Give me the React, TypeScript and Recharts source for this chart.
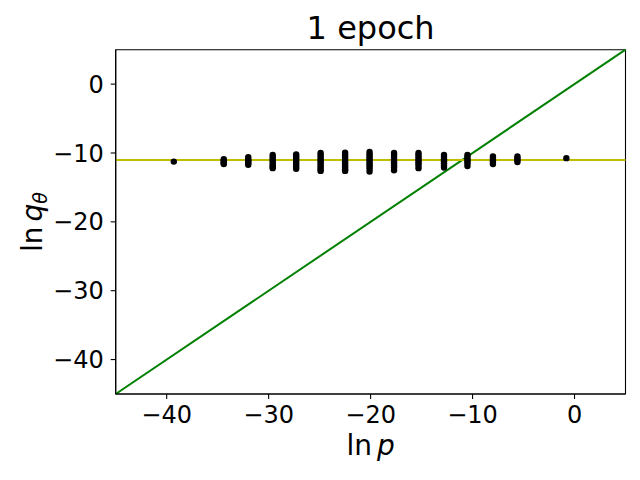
import React from "react";
import {
  ScatterChart,
  Scatter,
  XAxis,
  YAxis,
  ReferenceLine,
  ReferenceArea,
} from "recharts";

// ln p of each column of samples
const lnPColumns = [
  -39.3, -34.4, -32.0, -29.6, -27.3, -24.9, -22.5, -20.1, -17.7, -15.3, -12.8,
  -10.5, -8.0, -5.6, -0.8,
];

// ln q_theta values (top to bottom)
const lnQColumns = [
  [-11.25],
  [-10.9, -11.1, -11.3, -11.5, -11.6],
  [-10.6, -10.9, -11.1, -11.3, -11.5, -11.7],
  [-10.3, -10.6, -10.9, -11.2, -11.5, -11.8, -12.0, -12.2],
  [-10.2, -10.5, -10.8, -11.1, -11.4, -11.7, -12.0, -12.3],
  [-10.0, -10.3, -10.6, -10.9, -11.2, -11.5, -11.8, -12.1, -12.4, -12.6],
  [-9.95, -10.3, -10.6, -10.9, -11.2, -11.5, -11.8, -12.1, -12.4, -12.6],
  [-9.85, -10.2, -10.5, -10.8, -11.1, -11.4, -11.7, -12.0, -12.3, -12.7],
  [-10.0, -10.3, -10.6, -10.9, -11.2, -11.5, -11.8, -12.1, -12.5],
  [-10.0, -10.3, -10.6, -10.9, -11.2, -11.5, -11.8, -12.2],
  [-10.3, -10.6, -10.9, -11.2, -11.5, -11.8, -12.1],
  [-10.3, -10.6, -10.9, -11.2, -11.5, -11.9],
  [-10.5, -10.8, -11.1, -11.3, -11.6],
  [-10.5, -10.8, -11.0, -11.3],
  [-10.75],
];

const xTicks = [-40, -30, -20, -10, 0];
const yTicks = [-40, -30, -20, -10, 0];
const axisMin = -45;
const axisMax = 5;
const meanLnQ = -11;

const points = lnPColumns.flatMap((x, i) => lnQColumns[i].map((y) => ({ x, y })));

const FONT = "'DejaVu Sans', sans-serif";
const fmt = (v: number) => String(v).replace("-", "\u2212");

const Dot = (props: any) => <circle cx={props.cx} cy={props.cy} r={3.2} fill="#000" />;

// tick labels drawn by hand so size and baseline match
const XTick = (props: any) => (
  <text x={props.x} y={props.y + 22.3} textAnchor="middle" fontSize={24} fontFamily={FONT} fill="#000">
    {fmt(props.payload.value)}
  </text>
);
const YTick = (props: any) => (
  <text x={props.x} y={props.y + 8.6} textAnchor="end" fontSize={24} fontFamily={FONT} fill="#000">
    {fmt(props.payload.value)}
  </text>
);

export default function App() {
  return (
    <div style={{ position: "absolute", left: 0, top: 0, width: 640, height: 480, background: "#fff" }}>
      <ScatterChart
        width={640}
        height={480}
        margin={{ top: 49.7, right: 14.5, bottom: 46, left: 55.7 }}
      >
        <XAxis
          type="number"
          dataKey="x"
          domain={[axisMin, axisMax]}
          ticks={xTicks}
          allowDataOverflow
          height={40}
          tickSize={5}
          tickMargin={2}
          tick={XTick}
          axisLine={{ stroke: "#000", strokeWidth: 1.1 }}
          tickLine={{ stroke: "#000", strokeWidth: 1.1 }}
        />
        <YAxis
          type="number"
          dataKey="y"
          domain={[axisMin, axisMax]}
          ticks={yTicks}
          allowDataOverflow
          width={60}
          tickSize={5}
          tickMargin={7}
          tick={YTick}
          axisLine={{ stroke: "#000", strokeWidth: 1.1 }}
          tickLine={{ stroke: "#000", strokeWidth: 1.1 }}
        />
        <Scatter data={points} shape={Dot} isAnimationActive={false} />
        <ReferenceLine
          segment={[
            { x: axisMin, y: axisMin },
            { x: axisMax, y: axisMax },
          ]}
          stroke="#008000"
          strokeWidth={2}
        />
        <ReferenceLine y={meanLnQ} stroke="#bfbf00" strokeWidth={2} />
        <ReferenceArea
          x1={axisMin}
          x2={axisMax}
          y1={axisMin}
          y2={axisMax}
          fill="none"
          stroke="#000"
          strokeWidth={1.1}
        />
      </ScatterChart>
      <svg
        width={640}
        height={480}
        style={{ position: "absolute", left: 0, top: 0, pointerEvents: "none" }}
        fontFamily={FONT}
      >
        <text x={370.6} y={39} textAnchor="middle" fontSize={32} fill="#000">
          1 epoch
        </text>
        <text x={370.6} y={455} textAnchor="middle" fontSize={28} fill="#000">
          ln
          <tspan dx={5} fontStyle="italic">p</tspan>
        </text>
        <text
          transform="translate(42,222) rotate(-90)"
          textAnchor="middle"
          fontSize={28}
          fill="#000"
        >
          ln
          <tspan dx={5} fontStyle="italic">q</tspan>
          <tspan fontStyle="italic" fontSize={19} dy={5}>θ</tspan>
        </text>
      </svg>
    </div>
  );
}
